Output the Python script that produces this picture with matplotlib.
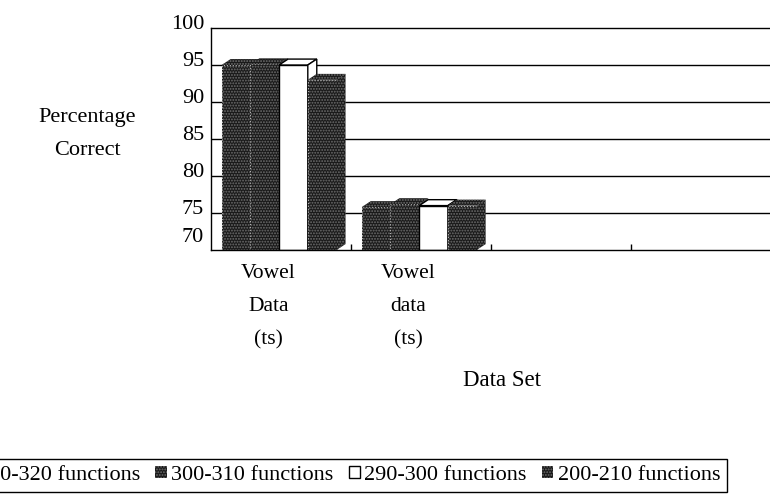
import matplotlib
matplotlib.use("Agg")
import matplotlib.pyplot as plt
import matplotlib.transforms as mtransforms
from matplotlib.patches import Polygon, Patch

plt.rcParams['font.family'] = ['Liberation Serif', 'DejaVu Serif']
plt.rcParams['hatch.color'] = '#6e6e6e'
plt.rcParams['hatch.linewidth'] = 0.9

# ---- data -------------------------------------------------------------
categories = ["Vowel\nData\n(ts)", "Vowel\ndata\n(ts)", "", ""]
series = ["310-320 functions", "300-310 functions",
          "290-300 functions", "200-210 functions"]
vals_310_320 = [95.0, 75.8]
vals_300_310 = [95.1, 76.2]
vals_290_300 = [95.0, 76.0]
vals_200_210 = [93.0, 76.0]
values = [vals_310_320, vals_300_310, vals_290_300, vals_200_210]
yticks = [70, 75, 80, 85, 90, 95, 100]

# ---- styles -----------------------------------------------------------
DARK = '#1a1a1a'
STIPPLE = '......'
styles = [dict(fc=DARK, hatch=STIPPLE), dict(fc=DARK, hatch=STIPPLE),
          dict(fc='white', hatch=None), dict(fc=DARK, hatch=STIPPLE)]
ymin, ymax = 70, 100
bw = 0.205          # bar width (category units)
off = 0.076         # gap before the first bar of a group
dx, dy = 0.064, 0.8 # 3-D depth of the bars

DPI = 100
fig = plt.figure(figsize=(7.7, 4.95), dpi=DPI)
ax = fig.add_axes([211/770, (495-250)/495, 559/770, 222/495])
ax.set_xlim(0, 3.99)
ax.set_ylim(ymin, ymax)

# gridlines behind the bars
for v in yticks[1:-1]:
    ax.axhline(v, color='black', lw=1.0, zorder=1)

# ---- bars with 3-D top and side faces --------------------------------
for j, (vals, st) in enumerate(zip(values, styles)):
    z = 3 + j
    xs = [i + off + j*bw for i in range(len(vals))]
    heights = [v - ymin for v in vals]
    if st['hatch']:
        ax.bar(xs, heights, bottom=ymin, width=bw, align='edge',
               color=st['fc'], hatch=st['hatch'], zorder=z)
        ax.bar(xs, heights, bottom=ymin, width=bw, align='edge', fill=False,
               edgecolor='#b0b0b0', linestyle=':', lw=0.8, zorder=z)
    else:
        ax.bar(xs, heights, bottom=ymin, width=bw, align='edge',
               color=st['fc'], edgecolor='black', lw=1.0, zorder=z)
    for x, v in zip(xs, vals):
        top = [(x, v), (x + bw, v), (x + bw + dx, v + dy), (x + dx, v + dy)]
        side = [(x + bw, ymin), (x + bw, v), (x + bw + dx, v + dy),
                (x + bw + dx, ymin + dy)]
        for pts in (top, side):
            if st['hatch']:
                ax.add_patch(Polygon(pts, closed=True, facecolor=st['fc'],
                                     hatch=st['hatch'], zorder=z))
            else:
                ax.add_patch(Polygon(pts, closed=True, facecolor=st['fc'],
                                     edgecolor='black', lw=1.0, zorder=z))

# ---- axes -------------------------------------------------------------
ax.spines['right'].set_visible(False)
for sp in ('left', 'top', 'bottom'):
    ax.spines[sp].set_linewidth(1.0)
    ax.spines[sp].set_zorder(10)

ax.set_yticks(yticks)
ax.set_yticklabels([str(t) for t in yticks], fontsize=16)
ax.tick_params(axis='y', length=0, pad=5)
for t, lab in zip(yticks, ax.get_yticklabels()):
    lift = 15 if t == ymin else 6
    lab.set_transform(lab.get_transform() +
                      mtransforms.ScaledTranslation(0, lift/DPI, fig.dpi_scale_trans))

ax.set_xticks([i + 0.41 for i in range(len(categories))])
ax.set_xticklabels(categories, fontsize=15.5, linespacing=2.0)
ax.tick_params(axis='x', which='major', length=0, pad=10)
ax.set_xticks([1, 2, 3], minor=True)
ax.tick_params(axis='x', which='minor', direction='in', length=4, width=1)

fig.text(87/770, 1 - 134/495, "Percentage\nCorrect", ha='center', va='center',
         fontsize=16, linespacing=2.0)
fig.text(502/770, 1 - 381/495, "Data Set", ha='center', va='center', fontsize=16.5)

# ---- legend -----------------------------------------------------------
handles = []
for name, st in zip(series, styles):
    if st['hatch']:
        handles.append(Patch(facecolor=st['fc'], hatch=st['hatch'], label=name))
    else:
        handles.append(Patch(facecolor='white', edgecolor='black', lw=1.0, label=name))
leg = fig.legend(handles=handles, loc='upper right',
                 bbox_to_anchor=(727/770, 1 - 459/495), ncol=4, fontsize=16,
                 frameon=True, fancybox=False, edgecolor='black', framealpha=1,
                 borderpad=0.3, handlelength=0.5, handleheight=0.5,
                 handletextpad=0.2, columnspacing=0.7, borderaxespad=0)
leg.get_frame().set_linewidth(1.0)

plt.savefig('out.png', dpi=DPI)
plt.close()
